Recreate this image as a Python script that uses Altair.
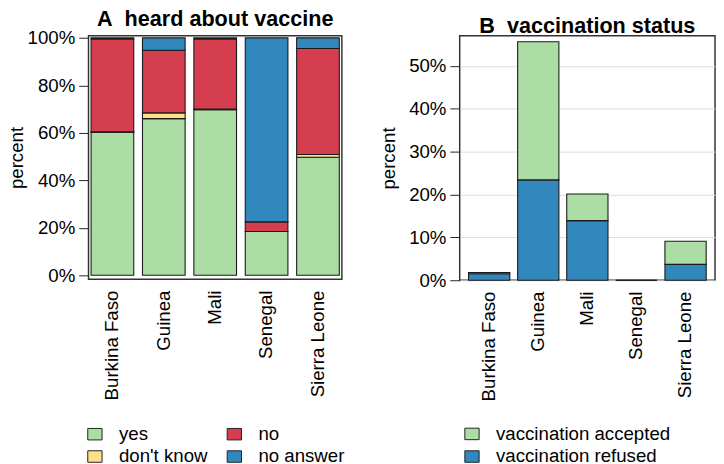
import altair as alt
import pandas as pd

countries = ["Burkina Faso", "Guinea", "Mali", "Senegal", "Sierra Leone"]

# Panel A: heard about vaccine (percent)
heard_yes = [60.3, 66.0, 69.7, 18.4, 49.7]
heard_dontknow = [0.1, 2.4, 0.3, 0.0, 1.2]
heard_no = [39.1, 26.4, 29.5, 4.1, 44.6]
heard_noanswer = [0.5, 5.2, 0.5, 77.5, 4.5]
heard_labels = ["yes", "don't know", "no", "no answer"]
heard_colors = ["#ABDDA4", "#FEE08B", "#D53E4F", "#3288BD"]

# Panel B: vaccination status (percent)
vacc_refused = [1.5, 23.4, 13.9, 0.0, 3.7]
vacc_accepted = [0.3, 32.2, 6.2, 0.0, 5.4]
vacc_labels = ["vaccination refused", "vaccination accepted"]
vacc_legend_order = ["vaccination accepted", "vaccination refused"]
vacc_colors = ["#ABDDA4", "#3288BD"]

FONT = "Liberation Sans"

rowsA = []
for i, c in enumerate(countries):
    for k, (lab, vals) in enumerate(zip(heard_labels, [heard_yes, heard_dontknow, heard_no, heard_noanswer])):
        rowsA.append({"country": c, "response": lab, "value": vals[i], "idx": k})
dfA = pd.DataFrame(rowsA)

rowsB = []
for i, c in enumerate(countries):
    for k, (lab, vals) in enumerate(zip(vacc_labels, [vacc_refused, vacc_accepted])):
        rowsB.append({"country": c, "status": lab, "value": vals[i], "idx": k})
dfB = pd.DataFrame(rowsB)

def xaxis():
    return alt.Axis(title=None, labelAngle=-90, ticks=False, domain=False, labelPadding=11,
                    labelFontSize=19, labelColor="black", labelFont=FONT)

def legend(x, y, cols):
    return alt.Legend(title=None, orient="none", legendX=x, legendY=y, columns=cols,
                      labelFontSize=19, labelColor="black", labelFont=FONT, labelOffset=15,
                      labelLimit=400,
                      symbolType="M-1.12,-0.9L1.12,-0.9L1.12,0.9L-1.12,0.9Z", symbolSize=169,
                      symbolStrokeColor="#222222", symbolStrokeWidth=1, symbolOpacity=1,
                      rowPadding=3, columnPadding=17, padding=0)

def title(text):
    return alt.TitleParams(text, fontSize=22, fontWeight="bold", font=FONT, color="black",
                           anchor="middle", offset=-2)

a = alt.Chart(dfA).mark_bar(stroke="#1a1a1a", strokeWidth=1.1).encode(
    x=alt.X("country:N", sort=countries,
            scale=alt.Scale(paddingInner=0.17, paddingOuter=0.05), axis=xaxis()),
    y=alt.Y("value:Q", stack="zero",
            scale=alt.Scale(domain=[-1.7, 100.9], nice=False, zero=False),
            axis=alt.Axis(title="percent", values=[0, 20, 40, 60, 80, 100],
                          labelExpr="datum.value + '%'", grid=False, domain=False,
                          tickSize=10, tickColor="#222222", labelPadding=4,
                          labelFontSize=19, labelColor="black", labelFont=FONT,
                          titleFontSize=19, titleFontWeight="normal", titleColor="black",
                          titleFont=FONT, titlePadding=1)),
    color=alt.Color("response:N",
                    scale=alt.Scale(domain=heard_labels, range=heard_colors),
                    legend=legend(-3, 396, 2)),
    order=alt.Order("idx:Q"),
).properties(width=258, height=248, title=title("A\u00a0\u00a0heard about vaccine"))

b = alt.Chart(dfB).mark_bar(stroke="#1a1a1a", strokeWidth=1.1).encode(
    x=alt.X("country:N", sort=countries,
            scale=alt.Scale(paddingInner=0.16, paddingOuter=0.18), axis=xaxis()),
    y=alt.Y("value:Q", stack="zero",
            scale=alt.Scale(domain=[0, 57], nice=False),
            axis=alt.Axis(title="percent", values=[0, 10, 20, 30, 40, 50],
                          labelExpr="datum.value + '%'", grid=True, gridColor="#dddddd",
                          gridWidth=1, domain=False,
                          tickSize=10, tickColor="#222222", labelPadding=4,
                          labelFontSize=19, labelColor="black", labelFont=FONT,
                          titleFontSize=19, titleFontWeight="normal", titleColor="black",
                          titleFont=FONT, titlePadding=10)),
    color=alt.Color("status:N",
                    scale=alt.Scale(domain=vacc_legend_order, range=vacc_colors),
                    legend=legend(3, 396, 1)),
    order=alt.Order("idx:Q"),
).properties(width=260, height=249, title=title("B\u00a0\u00a0vaccination status"))

chart = alt.hconcat(a, b, spacing=34).resolve_scale(color="independent").properties(
    padding={"left": -2, "top": -5, "right": 0, "bottom": 0}
).configure_view(stroke="#333333", strokeWidth=1.5)

chart.save("out.html", embed_options={"renderer": "svg", "actions": False})
